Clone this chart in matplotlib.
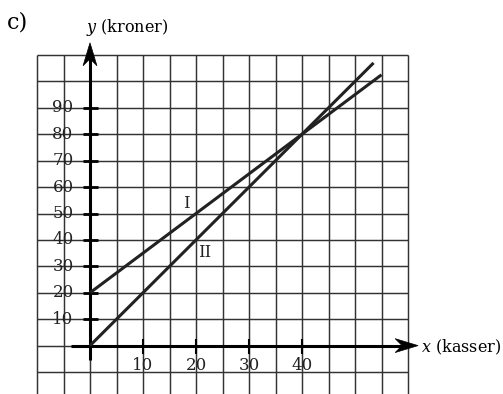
import numpy as np
import matplotlib
matplotlib.use("Agg")
import matplotlib.pyplot as plt
from matplotlib.patches import Polygon
from matplotlib.transforms import Affine2D, ScaledTranslation

# ---- data ----
line_I_x = [0, 55]
line_I_y = [20, 102.5]
line_II_x = [0, 53.5]
line_II_y = [0, 107]
y_ticks = [10, 20, 30, 40, 50, 60, 70, 80, 90]
x_ticks = [10, 20, 30, 40]
y_tick_labels = ["10", "20", "30", "40", "50", "60", "70", "80", "90"]
x_tick_labels = ["10", "20", "30", "40"]
grid_x = list(range(-10, 61, 5))
grid_y = list(range(-10, 111, 10))

plt.rcParams['font.family'] = ['DejaVu Serif']
plt.rcParams['mathtext.fontset'] = 'dejavuserif'

W, H, DPI = 503, 394, 100
fig = plt.figure(figsize=(W / DPI, H / DPI), dpi=DPI)
ax = fig.add_axes([0, 0, 1, 1])
ax.set_axis_off()

# pixel mapping: x=0 at px 90, 5.3 px/unit ; y=0 at px 345.6 from top, 2.642 px/unit
x0, sx = 90.0, 5.3
y0, sy = 345.6, 2.642
ax.set_xlim(-x0 / sx, (W - x0) / sx)
ax.set_ylim((y0 - H) / sy, y0 / sy)

gc = '#333333'
glw = 1.05
for gx in grid_x:
    ax.plot([gx, gx], [-40, grid_y[-1]], color=gc, lw=glw, solid_capstyle='butt', zorder=1)
for gy in grid_y:
    ax.plot([grid_x[0], grid_x[-1]], [gy, gy], color=gc, lw=glw, solid_capstyle='butt', zorder=1)

# axes
alw = 2.2
ax.plot([0, 0], [-5.5, 110], color='black', lw=alw, solid_capstyle='butt', zorder=3)
ax.plot([-3.6, 59], [0, 0], color='black', lw=alw, solid_capstyle='butt', zorder=3)


def arrow_head(x, y, angle):
    verts = np.array([[0, 0], [-16.5, 5.0], [-11.5, 0], [-16.5, -5.0]])
    tr = (Affine2D().rotate_deg(angle).scale(fig.dpi / 72.0)
          + ScaledTranslation(x, y, ax.transData))
    p = Polygon(verts, closed=True, transform=tr, facecolor='black',
                edgecolor='black', lw=0.5, zorder=4)
    ax.add_patch(p)


arrow_head(0, 114.6, 90)
arrow_head(61.9, 0, 0)

# ticks
ax.plot([0] * len(y_ticks), y_ticks, linestyle='none', marker='_',
        markersize=10.8, markeredgewidth=2.0, color='black', zorder=3)
ax.plot(x_ticks, [0] * len(x_ticks), linestyle='none', marker='|',
        markersize=10.8, markeredgewidth=1.5, color='black', zorder=3)

for v, lab in zip(y_ticks, y_tick_labels):
    ax.text(-3.1, v, lab, ha='right', va='center', fontsize=12, color='#222222', zorder=5)
for v, lab in zip(x_ticks, x_tick_labels):
    ax.text(v, -4.3, lab, ha='center', va='top', fontsize=12, color='#222222', zorder=5)

# lines
ax.plot(line_I_x, line_I_y, color='#222222', lw=2.2, solid_capstyle='butt', zorder=4)
ax.plot(line_II_x, line_II_y, color='#222222', lw=2.2, solid_capstyle='butt', zorder=4)

ax.text(18.1, 53.6, 'I', ha='center', va='center', fontsize=12, color='#222222', zorder=5)
ax.text(21.7, 35.4, 'II', ha='center', va='center', fontsize=12, color='#222222', zorder=5)

# labels
fig.text(18 / W, 1 - 23 / H, 'c)', ha='center', va='center', fontsize=16)
fig.text(127.5 / W, 1 - 28 / H, r'$y$ (kroner)', ha='center', va='center', fontsize=11.5)
fig.text(421 / W, 1 - 347 / H, r'$x$ (kasser)', ha='left', va='center', fontsize=11.5)

fig.savefig('out.png', dpi=DPI)
